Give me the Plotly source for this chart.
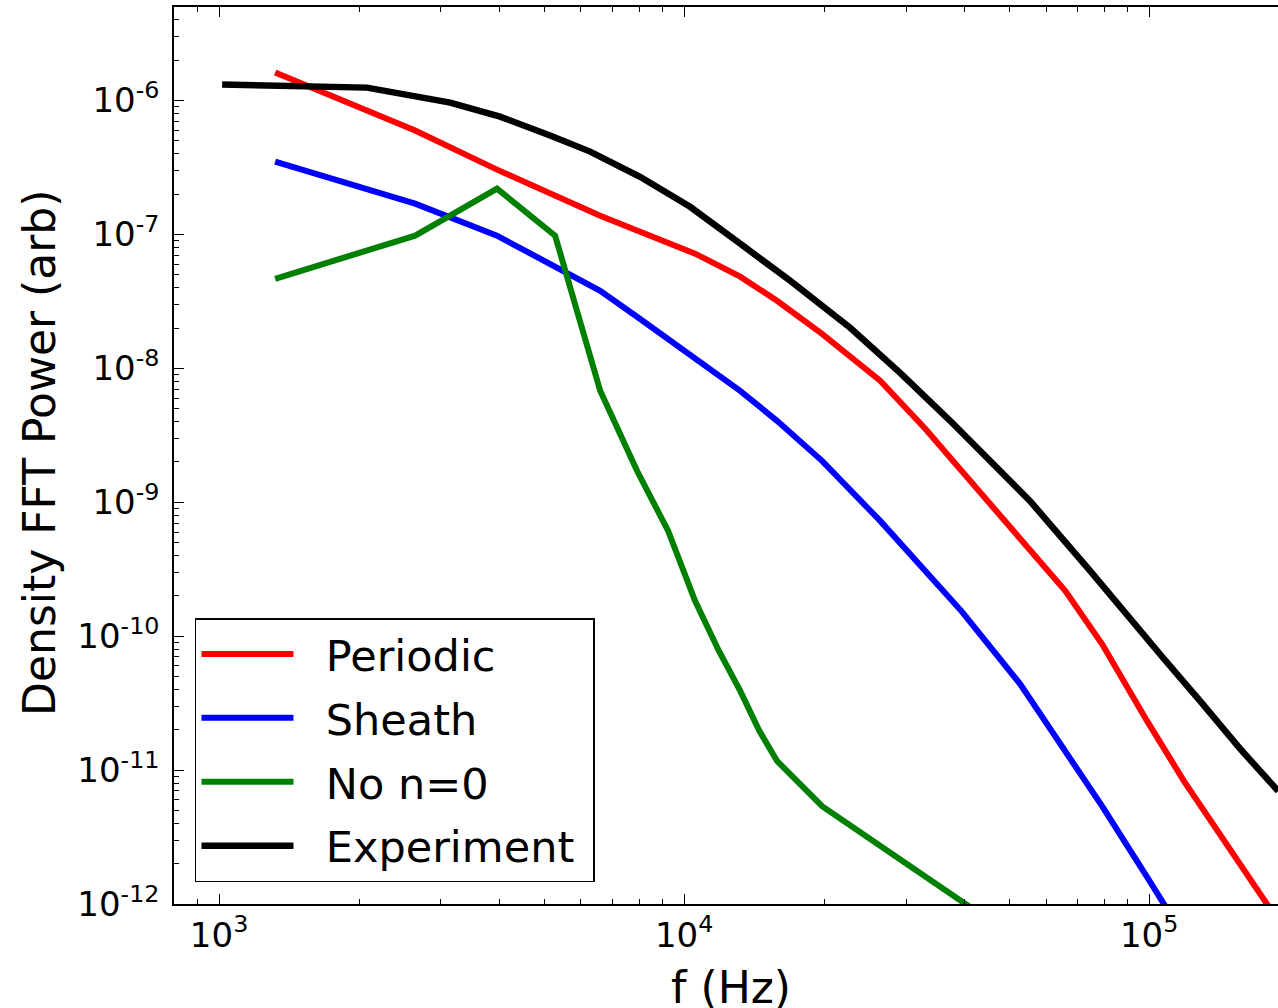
import math
import plotly.graph_objects as go

# ---- data ----
sim_freq = [1320, 2640, 3960, 5280, 6600, 7920, 9240, 10560, 13200, 15840, 19800,
            26400, 33000, 39600, 52800, 66000, 79200, 99000, 118800, 145200, 184800]
periodic_power = [1.62e-6, 5.97e-7, 3.05e-7, 1.95e-7, 1.38e-7, 1.07e-7, 8.68e-8, 7.19e-8,
                  4.84e-8, 3.20e-8, 1.81e-8, 8.08e-9, 3.54e-9, 1.69e-9, 5.42e-10, 2.18e-10,
                  8.74e-11, 2.32e-11, 8.28e-12, 2.90e-12, 8.53e-13]

sheath_freq = [1320, 2640, 3960, 5280, 6600, 7920, 9240, 10560, 13200, 15840, 19800,
               26400, 33000, 39600, 52800, 66000, 79200, 99000, 118800]
sheath_power = [3.50e-7, 1.70e-7, 9.80e-8, 5.74e-8, 3.80e-8, 2.43e-8, 1.66e-8, 1.18e-8,
                6.80e-9, 4.06e-9, 2.04e-9, 7.26e-10, 3.07e-10, 1.52e-10, 4.39e-11, 1.39e-11,
                5.38e-12, 1.59e-12, 5.74e-13]

no_n0_freq = [1320, 2640, 3960, 5280, 6600, 7920, 9240, 10560, 11880, 13200, 14520,
              15840, 19800, 26400, 33000, 39600, 52800]
no_n0_power = [4.67e-8, 9.80e-8, 2.20e-7, 9.80e-8, 6.80e-9, 1.72e-9, 6.11e-10, 1.83e-10,
               7.75e-11, 3.90e-11, 1.96e-11, 1.17e-11, 5.38e-12, 2.70e-12, 1.61e-12,
               1.05e-12, 5.27e-13]

exp_freq = [1015, 2080, 3140, 4020, 5150, 6280, 8040, 10300, 13200, 16900, 22750, 29140,
            37330, 47820, 55470, 74660, 91000, 107200, 128750, 156960, 189400]
exp_power = [1.32e-6, 1.25e-6, 9.66e-7, 7.59e-7, 5.48e-7, 4.16e-7, 2.70e-7, 1.61e-7,
             8.53e-8, 4.52e-8, 2.01e-8, 9.27e-9, 4.06e-9, 1.72e-9, 1.02e-9, 3.07e-10,
             1.34e-10, 6.87e-11, 3.28e-11, 1.44e-11, 6.97e-12]

series_names = ["Periodic", "Sheath", "No n=0", "Experiment"]
series_colors = ["#ff0000", "#0000ff", "#008000", "#000000"]

x_tick_vals = [1e3, 1e4, 1e5]
x_tick_text = ["10<sup>3</sup>", "10<sup>4</sup>", "10<sup>5</sup>"]
y_tick_vals = [1e-12, 1e-11, 1e-10, 1e-9, 1e-8, 1e-7, 1e-6]
y_tick_text = ["10<sup>-12</sup>", "10<sup>-11</sup>", "10<sup>-10</sup>", "10<sup>-9</sup>",
               "10<sup>-8</sup>", "10<sup>-7</sup>", "10<sup>-6</sup>"]

FONT = "DejaVu Sans"
NBSP = "\u00a0"

fig = go.Figure()
all_x = [sim_freq, sheath_freq, no_n0_freq, exp_freq]
all_y = [periodic_power, sheath_power, no_n0_power, exp_power]
for name, color, xs, ys in zip(series_names, series_colors, all_x, all_y):
    fig.add_trace(go.Scatter(
        x=xs, y=ys, mode="lines",
        name=NBSP * 2 + name + NBSP, legendgroup=name,
        line=dict(color=color, width=6.5 if name == "Experiment" else 6),
        cliponaxis=True,
    ))

axis_common = dict(
    showgrid=False, zeroline=False, showline=True, linecolor="black", linewidth=1.5,
    ticks="inside", ticklen=10, tickwidth=1.2, tickcolor="black",
    tickfont=dict(family=FONT, size=34, color="black"),
    minor=dict(ticks="inside", ticklen=5, tickwidth=1, tickcolor="black",
               dtick="D1", showgrid=False),
)

fig.update_layout(
    width=1278, height=1008,
    margin=dict(l=174, r=0, t=7, b=104),
    paper_bgcolor="white", plot_bgcolor="white",
    font=dict(family=FONT, color="black"),
    xaxis=dict(type="log", range=[math.log10(800), 5.277], tickmode="array",
               tickvals=x_tick_vals, ticktext=x_tick_text, mirror="allticks",
               **axis_common),
    yaxis=dict(type="log", range=[-12, math.log10(5e-6)], tickmode="array",
               tickvals=y_tick_vals, ticktext=y_tick_text, mirror=False,
               ticklabelstandoff=6,
               **axis_common),
    showlegend=True,
    legend=dict(
        x=0.019, y=0.0245, xanchor="left", yanchor="bottom",
        bgcolor="white", bordercolor="black", borderwidth=1.5,
        font=dict(family=FONT, size=43, color="black"),
        itemwidth=92, tracegroupgap=5,
    ),
    annotations=[
        dict(text="f (Hz)", xref="paper", yref="paper", x=0.5045, y=-0.0624,
             xanchor="center", yanchor="top", showarrow=False,
             font=dict(family=FONT, size=44, color="black")),
        dict(text="Density FFT Power (arb)", xref="paper", yref="paper", x=-0.1214, y=0.5028,
             xanchor="center", yanchor="middle", textangle=-90, showarrow=False,
             font=dict(family=FONT, size=44, color="black")),
    ],
)

fig.write_html("out.html")
